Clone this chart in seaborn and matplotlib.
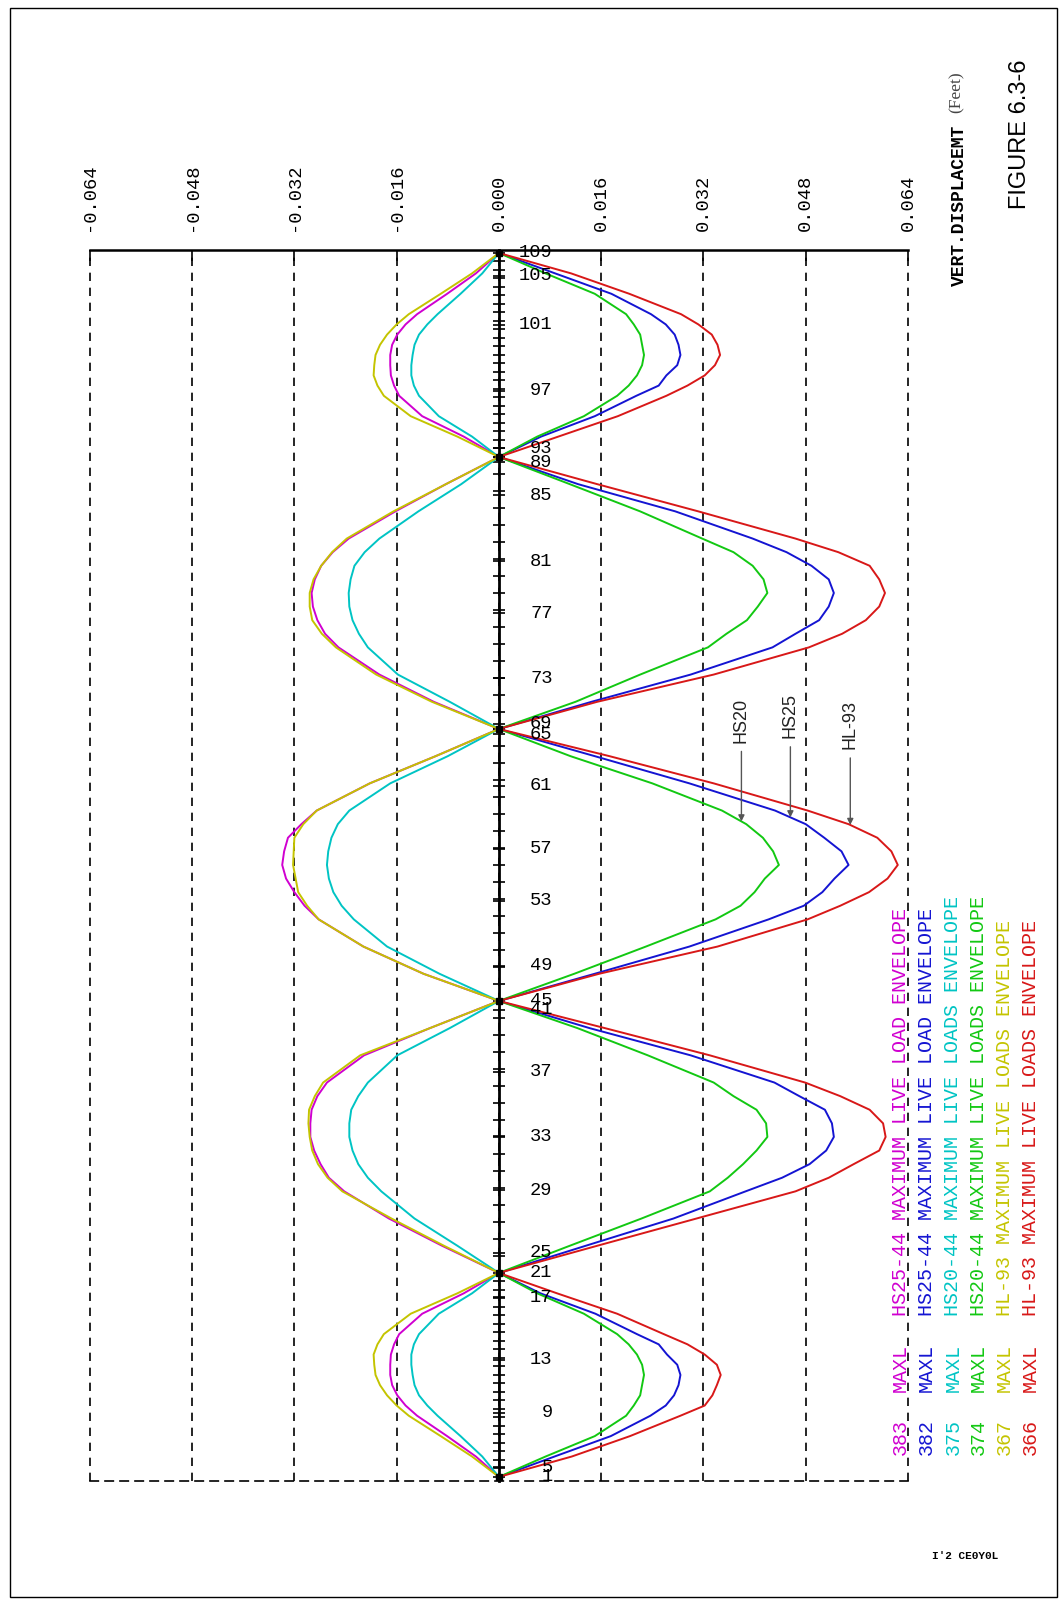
import numpy as np
import pandas as pd
import matplotlib
matplotlib.use("Agg")
import matplotlib.pyplot as plt
import seaborn as sns
from matplotlib.patches import Rectangle
from matplotlib.ticker import FixedLocator

# Stations along the girder (ft): five spans of 75-100-100-100-75 ft
stations = [0, 7.5, 15, 22.5, 26.25, 30, 33.75, 37.5, 41.25, 45, 48.75, 52.5, 60, 67.5, 75,
            85, 95, 105, 110, 115, 120, 125, 130, 135, 140, 145, 155, 165, 175,
            185, 195, 205, 210, 215, 220, 225, 230, 235, 240, 245, 255, 265, 275,
            285, 295, 305, 310, 315, 320, 325, 330, 335, 340, 345, 355, 365, 375,
            382.5, 390, 397.5, 401.25, 405, 408.75, 412.5, 416.25, 420, 423.75, 427.5, 435, 442.5, 450]
supports = [0, 75, 175, 275, 375, 450]

# Live load deflection envelopes (ft)
disp_383 = [0, -.0036, -.0081, -.0128, -.0146, -.0159, -.0167, -.0170, -.0170, -.0169, -.0164, -.0156, -.0120, -.0055, 0,
            -.0089, -.0172, -.0242, -.0266, -.0279, -.0289, -.0295, -.0295, -.0293, -.0284, -.0269, -.0211, -.0108, 0,
            -.0118, -.0212, -.0282, -.0304, -.0320, -.0333, -.0339, -.0336, -.0330, -.0309, -.0285, -.0202, -.0099, 0,
            -.0102, -.0187, -.0251, -.0272, -.0284, -.0291, -.0293, -.0288, -.0278, -.0260, -.0235, -.0162, -.0083, 0,
            -.0055, -.0120, -.0156, -.0164, -.0169, -.0170, -.0170, -.0167, -.0159, -.0146, -.0128, -.0081, -.0036, 0]
disp_382 = [0, .0087, .0175, .0237, .0261, .0274, .0281, .0284, .0279, .0263, .0250, .0216, .0151, .0065, 0,
            .0136, .0273, .0386, .0443, .0486, .0512, .0524, .0521, .0510, .0470, .0431, .0300, .0142, 0,
            .0150, .0298, .0422, .0477, .0506, .0525, .0547, .0536, .0509, .0480, .0432, .0298, .0150, 0,
            .0145, .0300, .0428, .0464, .0501, .0516, .0524, .0516, .0489, .0450, .0397, .0276, .0124, 0,
            .0066, .0150, .0215, .0250, .0262, .0279, .0284, .0281, .0275, .0261, .0238, .0176, .0088, 0]
disp_375 = [0, -.0026, -.0060, -.0096, -.0112, -.0125, -.0132, -.0135, -.0137, -.0137, -.0133, -.0125, -.0094, -.0042, 0,
            -.0065, -.0132, -.0184, -.0205, -.0220, -.0229, -.0234, -.0234, -.0231, -.0220, -.0205, -.0159, -.0077, 0,
            -.0093, -.0175, -.0227, -.0246, -.0259, -.0266, -.0269, -.0267, -.0262, -.0252, -.0234, -.0170, -.0080, 0,
            -.0077, -.0158, -.0205, -.0219, -.0229, -.0234, -.0235, -.0232, -.0226, -.0210, -.0187, -.0126, -.0059, 0,
            -.0042, -.0094, -.0125, -.0133, -.0137, -.0137, -.0135, -.0132, -.0125, -.0112, -.0096, -.0060, -.0026, 0]
disp_374 = [0, .0073, .0150, .0199, .0211, .0221, .0224, .0227, .0224, .0216, .0203, .0185, .0133, .0060, 0,
            .0111, .0223, .0330, .0358, .0382, .0403, .0420, .0418, .0403, .0367, .0336, .0233, .0123, 0,
            .0118, .0230, .0339, .0378, .0400, .0416, .0438, .0429, .0413, .0387, .0349, .0240, .0112, 0,
            .0120, .0221, .0327, .0356, .0388, .0405, .0420, .0414, .0397, .0367, .0318, .0221, .0111, 0,
            .0060, .0133, .0185, .0203, .0216, .0224, .0227, .0224, .0221, .0211, .0199, .0150, .0073, 0]
disp_367 = [0, -.0042, -.0091, -.0141, -.0160, -.0175, -.0186, -.0193, -.0195, -.0196, -.0190, -.0180, -.0138, -.0065, 0,
            -.0086, -.0168, -.0245, -.0268, -.0283, -.0292, -.0296, -.0298, -.0297, -.0288, -.0275, -.0217, -.0108, 0,
            -.0118, -.0212, -.0282, -.0300, -.0314, -.0318, -.0322, -.0321, -.0320, -.0306, -.0285, -.0202, -.0099, 0,
            -.0105, -.0192, -.0255, -.0277, -.0292, -.0296, -.0296, -.0290, -.0278, -.0261, -.0238, -.0165, -.0083, 0,
            -.0065, -.0138, -.0180, -.0190, -.0196, -.0195, -.0193, -.0186, -.0175, -.0160, -.0141, -.0091, -.0042, 0]
disp_366 = [0, .0114, .0205, .0284, .0322, .0334, .0341, .0347, .0341, .0322, .0295, .0258, .0185, .0091, 0,
            .0154, .0309, .0464, .0516, .0555, .0595, .0605, .0601, .0580, .0534, .0479, .0330, .0166, 0,
            .0157, .0342, .0483, .0534, .0579, .0608, .0624, .0614, .0592, .0547, .0483, .0336, .0173, 0,
            .0154, .0336, .0485, .0537, .0574, .0595, .0604, .0595, .0580, .0531, .0464, .0312, .0154, 0,
            .0093, .0186, .0262, .0295, .0322, .0338, .0346, .0342, .0333, .0312, .0285, .0204, .0113, 0]

series_ids = ["383", "382", "375", "374", "367", "366"]
series_vals = [disp_383, disp_382, disp_375, disp_374, disp_367, disp_366]
series_colors = ["#d000d0", "#1414d2", "#00c4c4", "#12c812", "#c4c400", "#d81818"]
series_names = ["HS25-44 MAXIMUM LIVE LOAD ENVELOPE",
                "HS25-44 MAXIMUM LIVE LOAD ENVELOPE",
                "HS20-44 MAXIMUM LIVE LOADS ENVELOPE",
                "HS20-44 MAXIMUM LIVE LOADS ENVELOPE",
                "HL-93 MAXIMUM LIVE LOADS ENVELOPE",
                "HL-93 MAXIMUM LIVE LOADS ENVELOPE"]

# Node numbers printed along the girder and their stations (ft)
node_ids = [1, 5, 9, 13, 17, 21, 25, 29, 33, 37, 41, 45, 49, 53, 57, 61, 65, 69,
            73, 77, 81, 85, 89, 93, 97, 101, 105, 109]
node_stations = [0, 3.5, 23.6, 43.1, 66.0, 75, 82.5, 105.4, 125.2, 148.9, 171.7, 175,
                 187.9, 211.8, 231.0, 254.2, 273.0, 277.0, 293.6, 317.6, 336.7, 361.0,
                 373.0, 378.3, 399.3, 423.7, 441.7, 450]

disp_ticks = [-0.064, -0.048, -0.032, -0.016, 0.0, 0.016, 0.032, 0.048, 0.064]

# Callouts: truck name, series it points to, station of arrow tip, station of text start
callouts = [("HS20", "374", 241.0, 270.0),
            ("HS25", "382", 242.5, 271.7),
            ("HL-93", "366", 239.7, 267.6)]

df = pd.DataFrame({
    "station": np.tile(stations, len(series_ids)),
    "disp": np.concatenate(series_vals),
    "case": np.repeat(series_ids, len(stations)),
})

sns.set_theme(style="white")
plt.rcParams["font.family"] = ["DejaVu Sans"]
MONO = "Liberation Mono"

W, H = 1060, 1600
fig = plt.figure(figsize=(W / 100, H / 100), dpi=100)
fig.patch.set_facecolor("white")

def fx(px):
    return px / W

def fy(py):
    return 1 - py / H

ax_l, ax_r, ax_t, ax_b = 89.8, 908.0, 250.0, 1481.0
ax = fig.add_axes([fx(ax_l), fy(ax_b), (ax_r - ax_l) / W, (ax_b - ax_t) / H])
ax.set_facecolor("white")

sns.lineplot(data=df, x="disp", y="station", hue="case", hue_order=series_ids,
             palette=dict(zip(series_ids, series_colors)), orient="y",
             estimator=None, legend=False, linewidth=1.4, ax=ax)

ax.set_xlim(-0.064, 0.064)
ax.set_ylim(-1.5, 451.1)
ax.set_xlabel("")
ax.set_ylabel("")

# displacement axis on top
ax.xaxis.tick_top()
ax.set_xticks(disp_ticks)
ax.set_xticklabels([f"{v:.3f}" for v in disp_ticks])
ax.tick_params(axis="x", which="major", direction="in", length=8, width=1.2,
               pad=14, labelsize=13.5, labelrotation=90, colors="black")
for lab in ax.get_xticklabels():
    lab.set_fontfamily(MONO)
ax.grid(axis="x", color="black", linestyle=(0, (5, 4)), linewidth=1.2)
for gl in ax.get_xgridlines():
    gl.set_clip_on(False)
ax.grid(axis="y", visible=False)

# girder axis drawn as the zero line with a tick at every node
ax.spines["right"].set_position(("data", 0))
ax.spines["right"].set_linewidth(2.0)
ax.spines["right"].set_color("black")
ax.yaxis.tick_right()
minor = np.concatenate([np.linspace(supports[i], supports[i + 1],
                                    (24 if i in (0, 4) else 16) + 1)
                        for i in range(5)])
ax.yaxis.set_major_locator(FixedLocator(node_stations))
ax.yaxis.set_minor_locator(FixedLocator(minor))
ax.tick_params(axis="y", which="both", direction="inout", length=8, width=1.2,
               labelright=False, labelleft=False, colors="black")

ax.spines["left"].set_visible(False)
ax.spines["top"].set_linewidth(1.8)
ax.spines["top"].set_color("black")
ax.spines["bottom"].set_linestyle((0, (5, 4)))
ax.spines["bottom"].set_linewidth(1.2)
ax.spines["bottom"].set_color("black")

for n, s in zip(node_ids, node_stations):
    ax.text(0.0084, s, f"{n}", fontsize=13.5, family=MONO, ha="right",
            va="center", color="black")

ax.plot([0] * len(supports), supports, ls="none", marker="s", ms=4.5,
        color="black", zorder=5)

# callout arrows to the three envelopes
for name, case, tip, text_st in callouts:
    xv = float(np.interp(tip, stations, series_vals[series_ids.index(case)]))
    ax.annotate(name, xy=(xv, tip), xytext=(xv, text_st), rotation=90,
                ha="center", va="bottom", fontsize=13, family="Liberation Sans",
                color="#222222",
                arrowprops=dict(arrowstyle="-|>", color="#555555", lw=1.0,
                                shrinkA=4, shrinkB=0, mutation_scale=9))

# legend block
row_x = [900, 926, 953, 978, 1004, 1030]
for x, sid, name, col in zip(row_x, series_ids, series_names, series_colors):
    for txt, y0 in ((sid, 1455), ("MAXL", 1392), (name, 1316)):
        fig.text(fx(x), fy(y0), txt, rotation=90, rotation_mode="anchor",
                 ha="left", va="center", fontsize=14.4, family=MONO, color=col)

# axis title and figure number
fig.text(fx(959), fy(286), "VERT.DISPLACEMT", rotation=90, rotation_mode="anchor",
         ha="left", va="center", fontsize=13, family=MONO, weight="bold",
         color="black")
fig.text(fx(957), fy(113), "(Feet)", rotation=90, rotation_mode="anchor",
         ha="left", va="center", fontsize=12.5, family="Liberation Serif",
         color="#444444")
fig.text(fx(1020), fy(209), "FIGURE 6.3-6", rotation=90, rotation_mode="anchor",
         ha="left", va="center", fontsize=17, family="Liberation Sans",
         color="black")
fig.text(fx(932), fy(1556), "I'2 CE0Y0L", ha="left", va="center", fontsize=8,
         family=MONO, weight="bold", color="black")

# page frame
fig.patches.append(Rectangle((fx(10), fy(1597)), (1057 - 10) / W, (1597 - 8) / H,
                             transform=fig.transFigure, fill=False,
                             edgecolor="black", linewidth=1.0))

fig.savefig("out.png", dpi=100, facecolor="white")
